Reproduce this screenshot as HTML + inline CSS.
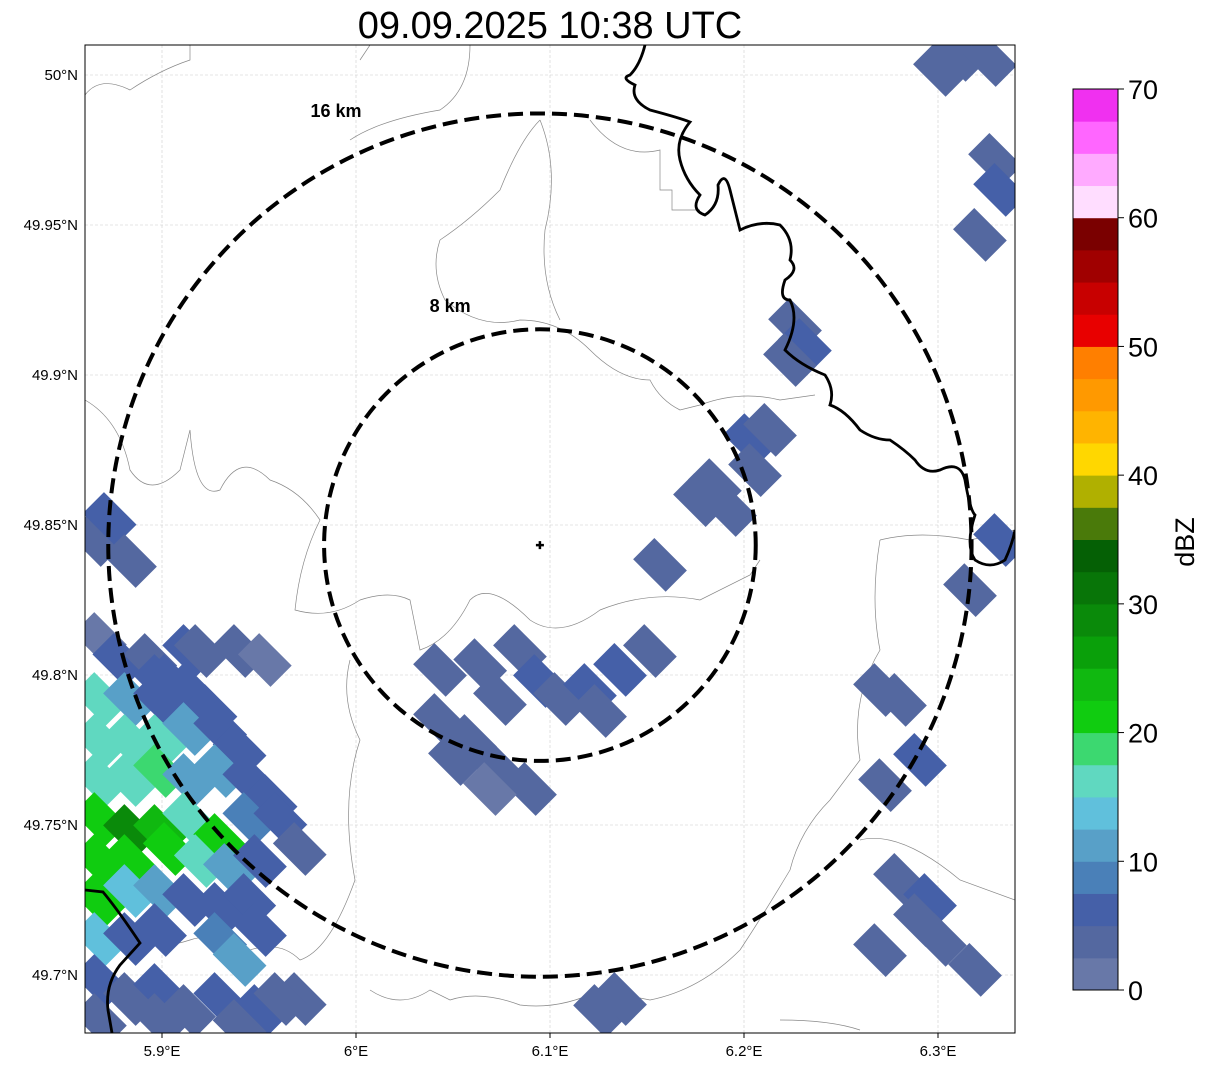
<!DOCTYPE html>
<html><head><meta charset="utf-8">
<style>
body{margin:0;background:#fff;}
svg text{font-family:"Liberation Sans","DejaVu Sans",sans-serif;}
</style></head>
<body>
<svg id="chart" width="1207" height="1069" xmlns="http://www.w3.org/2000/svg">
<text x="550" y="38" font-size="38" text-anchor="middle">09.09.2025 10:38 UTC</text>
<defs><clipPath id="clip"><rect x="85" y="45" width="930" height="988"/></clipPath></defs>
<g id="grid"></g>
<g id="map" clip-path="url(#clip)">
 <g fill="none" stroke="#888" stroke-width="0.7">
  <path d="M85 95 Q100 75 130 90 Q160 70 190 60 L190 45"/>
  <path d="M85 400 Q120 420 130 470 Q150 500 180 470 L190 430 Q195 500 220 490 Q240 450 270 480 Q300 490 320 520 Q300 560 295 610 Q330 620 360 600 Q390 590 410 600 L420 650 Q450 640 470 600 Q490 580 530 620 Q560 640 600 610 Q650 590 700 600 L750 575 L760 560"/>
  <path d="M440 240 Q430 270 445 300 Q480 330 520 320 Q560 320 590 350 Q620 380 650 380 Q660 400 680 410 L700 405 Q740 390 780 400 L815 395"/>
  <path d="M540 120 Q520 140 500 190 Q470 220 440 240"/>
  <path d="M540 120 Q560 170 545 230 Q540 280 560 320"/>
  <path d="M370 45 L360 60 M470 45 Q470 90 440 110 Q380 120 350 140"/>
  <path d="M590 120 Q620 160 660 150 L660 190 L672 190 L672 210 L700 210"/>
  <path d="M350 660 Q340 700 360 740 Q340 800 355 880 Q330 950 300 960 Q280 940 250 950 Q220 930 190 940 Q160 950 140 940"/>
  <path d="M880 540 Q870 600 880 650 Q850 700 860 760 L830 800 Q800 830 790 870 Q760 920 740 950 Q700 990 650 1000 L600 990 Q560 1010 520 1005 Q480 990 450 1000 L430 990 Q400 1010 370 990"/>
  <path d="M860 840 Q900 830 960 880 L1015 900"/>
  <path d="M880 540 Q920 530 970 540 L1015 530"/>
  <path d="M780 1020 Q830 1020 860 1030"/>
 </g>
 <g id="cells"></g>
 <path fill="none" stroke="#000" stroke-width="2.8" d="M645 45 Q640 65 630 75 Q620 78 635 85 Q630 100 650 110 Q680 118 690 122 Q675 140 680 160 Q685 180 700 195 Q690 210 705 215 Q720 205 718 185 Q725 170 730 190 Q735 210 740 230 Q760 220 780 225 Q795 240 790 260 Q800 270 785 280 Q778 300 790 300 Q800 320 785 350 Q800 365 825 375 Q835 390 830 405 Q845 410 860 430 Q875 440 890 440 Q905 450 915 460 Q925 475 940 470 Q960 460 965 480 Q970 510 975 515 Q965 545 975 560 Q990 570 1005 560 Q1012 545 1015 530"/>
 <path fill="none" stroke="#000" stroke-width="2.8" d="M85 890 L103 892 Q118 910 140 943 L120 965 Q105 985 108 1010 L112 1033"/>
 <g id="rings"></g>
</g>
<rect x="85" y="45" width="930" height="988" fill="none" stroke="#000" stroke-width="1"/>
<g id="axes"></g>
<g id="cbar"></g>
<text transform="translate(1194,542) rotate(-90)" font-size="27" text-anchor="middle">dBZ</text>
</svg>
<script>
const lonTicks=[5.9,6.0,6.1,6.2,6.3];
const lonLabels=["5.9°E","6°E","6.1°E","6.2°E","6.3°E"];
const latTicks=[50.0,49.95,49.9,49.85,49.8,49.75,49.7];
const latLabels=["50°N","49.95°N","49.9°N","49.85°N","49.8°N","49.75°N","49.7°N"];
const radarLon=6.0948, radarLat=49.8433;
const ringKm=[8,16];
const ringLabelLon=[6.0485,5.9897];
const ringLabelLat=[49.921,49.986];
const cbTicks=[0,10,20,30,40,50,60,70];
const cbColors=["#6878a8","#5468a0","#4560a8","#4a80b8","#58a0c8","#60c0dc","#60d8c0","#3cd870","#10cc10","#10b810","#0aa00a","#0a8a0a","#087508","#056005","#4a7a0a","#b0b000","#ffd700","#ffb400","#ff9900","#ff7f00","#e80000","#c80000","#a00000","#7a0000","#ffddff","#ffaaff","#ff66ff","#f030f0"];
const cellLon=[5.8655,5.873,5.868,5.878,5.8835,5.894,5.899,5.904,5.914,5.920,5.940,5.953,
5.868,5.8835,5.899,5.914,5.925,5.868,5.8835,5.899,5.914,5.930,5.940,
5.868,5.8835,5.899,5.914,5.930,5.945,5.956,
5.868,5.8835,5.899,5.914,5.930,5.945,5.961,5.971,
5.868,5.8835,5.904,5.920,5.935,5.9505,
5.868,5.8835,5.899,5.914,5.930,5.945,
5.868,5.8835,5.899,5.930,5.940,5.9505,
5.868,5.8835,5.899,5.914,5.930,5.9505,5.971,5.868,5.899,5.940,5.961,
6.0433,6.0588,6.0742,6.0897,6.051,6.069,6.0742,6.0845,6.0948,6.1052,6.1206,6.1361,6.1515,6.1258,6.0433,6.064,
6.1773,6.1928,6.185,6.1567,6.2031,6.2134,6.2057,
6.2263,6.2314,6.2237,6.3216,6.3294,6.332,6.3113,6.3268,6.301,
6.332,6.3165,6.2804,6.2701,6.2907,6.2727,6.2804,6.2959,6.301,6.2701,6.3191,6.2907,
6.1258,6.1361];
const cellLat=[49.845,49.852,49.812,49.805,49.838,49.805,49.798,49.798,49.808,49.808,49.808,49.805,
49.792,49.792,49.792,49.795,49.788,49.778,49.778,49.778,49.782,49.782,49.775,
49.765,49.765,49.768,49.765,49.768,49.765,49.758,
49.752,49.748,49.748,49.752,49.745,49.752,49.752,49.742,
49.738,49.738,49.742,49.738,49.735,49.738,
49.725,49.728,49.728,49.725,49.722,49.725,
49.712,49.712,49.715,49.712,49.705,49.715,
49.698,49.692,49.695,49.688,49.692,49.688,49.692,49.685,49.685,49.683,49.692,
49.785,49.778,49.768,49.762,49.772,49.762,49.792,49.808,49.798,49.792,49.795,49.8017,49.808,49.788,49.8017,49.8033,
49.8583,49.855,49.8633,49.8367,49.8783,49.8817,49.8683,
49.9167,49.91,49.905,49.9467,49.9717,49.9617,50.0067,50.005,50.0017,
49.845,49.8283,49.7917,49.795,49.7717,49.7633,49.7317,49.725,49.7117,49.7083,49.7017,49.7183,
49.688,49.692];
const cellDbz=[3,5,2,5,3,3,5,5,7,3,3,2,
15,10,5,7,5,16,17,15,10,7,7,
15,17,18,12,10,5,7,
20,28,24,15,20,8,7,3,
22,20,22,15,10,5,
20,14,12,7,5,5,
13,7,5,8,12,5,
5,3,5,3,5,5,3,3,3,3,3,
3,3,3,3,3,2,3,3,5,3,5,5,3,3,3,3,
3,3,3,3,7,3,3,
3,5,3,3,3,5,3,3,3,
5,3,3,3,5,3,3,5,3,3,3,3,
3,3];

const NS="http://www.w3.org/2000/svg";
const X=lon=>162+(lon-5.9)*1940;
const Y=lat=>75+(50-lat)*3000;
const kmY=km=>km/111.2*3000;
function mk(tag,attrs,parent){const e=document.createElementNS(NS,tag);for(const k in attrs)e.setAttribute(k,attrs[k]);parent.appendChild(e);return e;}
const grid=document.getElementById('grid'),axes=document.getElementById('axes');
lonTicks.forEach((v,i)=>{
 const l=mk('line',{x1:X(v),x2:X(v),y1:45,y2:1033,stroke:'#ccc','stroke-width':0.6,'stroke-dasharray':'3,2'},grid);
 
 
 mk('line',{x1:X(v),x2:X(v),y1:1033,y2:1038,stroke:'#000'},axes);
 const t=mk('text',{x:X(v),y:1056,'font-size':15,'text-anchor':'middle'},axes);t.textContent=lonLabels[i];
 
 
});
latTicks.forEach((v,i)=>{
 const l=mk('line',{x1:85,x2:1015,y1:Y(v),y2:Y(v),stroke:'#ccc','stroke-width':0.6,'stroke-dasharray':'3,2'},grid);
 
 
 const t=mk('text',{x:78,y:Y(v)+5,'font-size':15,'text-anchor':'end'},axes);t.textContent=latLabels[i];
 
 
});
function color(d){return cbColors[Math.max(0,Math.min(cbColors.length-1,Math.floor(d/2.5)))];}
const cells=document.getElementById('cells');
cellLon.forEach((lo,i)=>{
 const cx=X(lo),cy=Y(cellLat[i]);
 const r=mk('rect',{x:cx-23,y:cy-15,width:46,height:30,fill:color(cellDbz[i]),transform:`rotate(45 ${cx} ${cy})`},cells);
 
 
});
const rings=document.getElementById('rings');
const rcx=X(radarLon),rcy=Y(radarLat);
ringKm.forEach((km,i)=>{
 const ry=kmY(km),rx=ry;
 const c=mk('ellipse',{cx:rcx,cy:rcy,rx:rx,ry:ry,fill:'none',stroke:'#000','stroke-width':4,'stroke-dasharray':'15,7'},rings);
 
 
 const t=mk('text',{x:X(ringLabelLon[i]),y:Y(ringLabelLat[i]),'font-size':18,'font-weight':'bold','text-anchor':'middle'},rings);t.textContent=km+' km';
 
 
});
const p=mk('path',{d:`M${rcx-4} ${rcy}H${rcx+4}M${rcx} ${rcy-4}V${rcy+4}`,stroke:'#000','stroke-width':2.5},rings);


const cb=document.getElementById('cbar');
const cbTop=89,cbBot=990,cbMax=70;
const CY=v=>cbBot-(v/cbMax)*(cbBot-cbTop);
cbColors.forEach((c,i)=>{
 const r=mk('rect',{x:1073,y:CY((i+1)*2.5),width:45,height:CY(i*2.5)-CY((i+1)*2.5)+0.5,fill:c},cb);
 
 
});
const fr=mk('rect',{x:1073,y:cbTop,width:45,height:cbBot-cbTop,fill:'none',stroke:'#000','stroke-width':1},cb);


cbTicks.forEach(v=>{
 mk('line',{x1:1118,x2:1124,y1:CY(v),y2:CY(v),stroke:'#000'},cb);
 const t=mk('text',{x:1128,y:CY(v)+10,'font-size':27},cb);t.textContent=v;
 
 
});
</script>
</body></html>
